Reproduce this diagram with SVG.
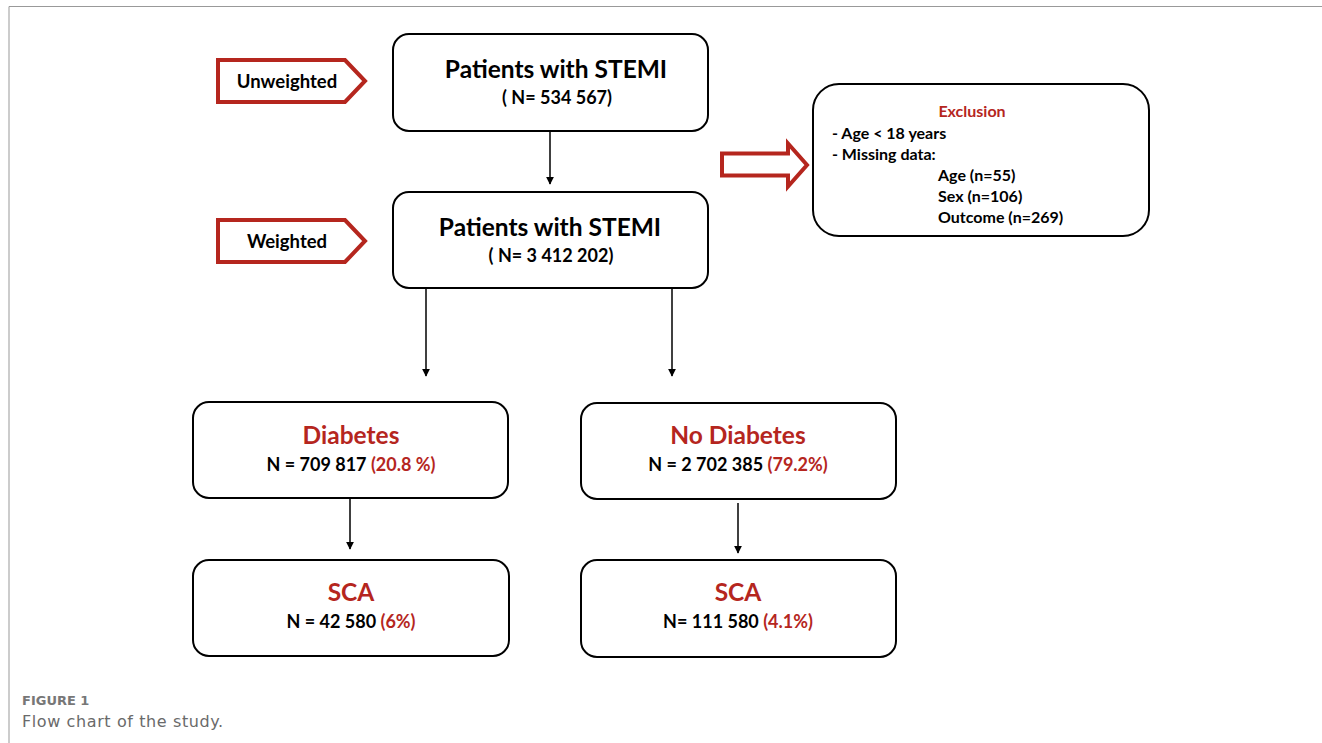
<svg xmlns="http://www.w3.org/2000/svg" width="1322" height="743" viewBox="0 0 1322 743">
<defs>
<marker id="ah" viewBox="0 0 10 10" refX="9" refY="5" markerWidth="8" markerHeight="9" markerUnits="userSpaceOnUse" orient="auto">
<path d="M0,0 L10,5 L0,10 z" fill="#000"/>
</marker>
<style>
.box{fill:#fff;stroke:#000;stroke-width:2}
.tag{fill:#fff;stroke:#b5261e;stroke-width:4}
.t{font-family:Lato,"Liberation Sans",sans-serif;font-weight:bold;fill:#000}
.red{fill:#b5261e}
.title{font-size:24.5px}
.sub{font-size:18px}
.ex{font-size:16px}
.lbl{font-size:18.5px}
.conn{stroke:#000;stroke-width:1.5;fill:none}
.cap{font-family:"DejaVu Sans","Liberation Sans",sans-serif}
</style>
</defs>
<rect width="1322" height="743" fill="#fff"/>
<path d="M9,743 V6.5 H1322" fill="none" stroke="#999" stroke-width="1"/>

<g id="connectors">
<line class="conn" x1="550" y1="131" x2="550" y2="184" marker-end="url(#ah)"/>
<line class="conn" x1="426" y1="288" x2="426" y2="376" marker-end="url(#ah)"/>
<line class="conn" x1="672" y1="288" x2="672" y2="376" marker-end="url(#ah)"/>
<line class="conn" x1="350" y1="498" x2="350" y2="549" marker-end="url(#ah)"/>
<line class="conn" x1="738" y1="503" x2="738" y2="553" marker-end="url(#ah)"/>
<path id="exclusion-arrow" class="tag" d="M722,153.5 H788 V143.5 L807,165 L788,186.5 V175.5 H722 Z" stroke-width="3.5"/>
</g>

<g id="unweighted">
<path class="tag" d="M218,60 H345 L365,81 L345,102 H218 Z"/>
<text class="t lbl" x="287" y="88" text-anchor="middle">Unweighted</text>
</g>
<g id="weighted">
<path class="tag" d="M218,220 H345 L365,241 L345,262 H218 Z"/>
<text class="t lbl" x="287" y="248" text-anchor="middle">Weighted</text>
</g>

<g id="stemi-unweighted">
<rect class="box" x="393" y="34" width="315" height="97" rx="16"/>
<text class="t title" x="556" y="78" text-anchor="middle">Patients with STEMI</text>
<text class="t sub" x="557" y="104" text-anchor="middle">( N= 534 567)</text>
</g>
<g id="stemi-weighted">
<rect class="box" x="393" y="192" width="315" height="96" rx="16"/>
<text class="t title" x="550" y="236" text-anchor="middle">Patients with STEMI</text>
<text class="t sub" x="551" y="262" text-anchor="middle">( N= 3 412 202)</text>
</g>

<g id="exclusion">
<rect class="box" x="813" y="84" width="336" height="152" rx="26"/>
<text class="t red ex" x="972" y="117" text-anchor="middle">Exclusion</text>
<text class="t ex" x="832" y="139">- Age &lt; 18 years</text>
<text class="t ex" x="832" y="160">- Missing data:</text>
<text class="t ex" x="938" y="181">Age (n=55)</text>
<text class="t ex" x="938" y="202">Sex (n=106)</text>
<text class="t ex" x="938" y="223">Outcome (n=269)</text>
</g>

<g id="diabetes">
<rect class="box" x="193" y="402" width="315" height="96" rx="16"/>
<text class="t title red" x="351" y="444" text-anchor="middle">Diabetes</text>
<text class="t sub" x="351" y="471" text-anchor="middle">N = 709 817 <tspan class="red">(20.8 %)</tspan></text>
</g>
<g id="no-diabetes">
<rect class="box" x="581" y="403" width="315" height="96" rx="16"/>
<text class="t title red" x="738" y="444" text-anchor="middle">No Diabetes</text>
<text class="t sub" x="738" y="471" text-anchor="middle">N = 2 702 385 <tspan class="red">(79.2%)</tspan></text>
</g>
<g id="sca-diabetes">
<rect class="box" x="193" y="560" width="316" height="96" rx="16"/>
<text class="t title red" x="351" y="601" text-anchor="middle">SCA</text>
<text class="t sub" x="351" y="628" text-anchor="middle">N = 42 580 <tspan class="red">(6%)</tspan></text>
</g>
<g id="sca-no-diabetes">
<rect class="box" x="581" y="560" width="315" height="97" rx="16"/>
<text class="t title red" x="738" y="601" text-anchor="middle">SCA</text>
<text class="t sub" x="738" y="628" text-anchor="middle">N= 111 580 <tspan class="red">(4.1%)</tspan></text>
</g>

<g id="caption">
<text class="cap" x="22" y="705" font-size="13" font-weight="bold" fill="#777">FIGURE 1</text>
<text class="cap" x="22" y="727" font-size="16" fill="#6a6a6a" letter-spacing="0.6">Flow chart of the study.</text>
</g>
</svg>
